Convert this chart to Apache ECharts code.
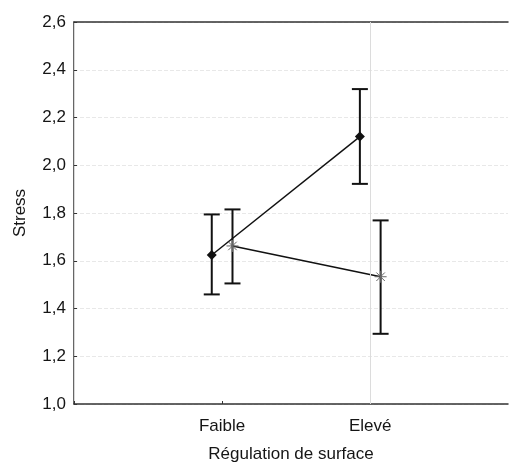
<!DOCTYPE html>
<html><head><meta charset="utf-8">
<script src="https://cdn.jsdelivr.net/npm/echarts@6/dist/echarts.min.js"></script>
<style>html,body{margin:0;padding:0;background:#fff}#c{width:509px;height:468px}</style>
</head><body><div id="c"></div>
<script>
const categories = ['Faible', 'Elevé'];
const yTicks = ['1,0','1,2','1,4','1,6','1,8','2,0','2,2','2,4','2,6'];
// series "diamond"
const diamondMean = [1.624, 2.12];
const diamondLow  = [1.459, 1.922];
const diamondHigh = [1.794, 2.319];
// series "star"
const starMean = [1.662, 1.533];
const starLow  = [1.505, 1.294];
const starHigh = [1.815, 1.769];

const OFF = 0.07;
const diamondPts = categories.map((c,i)=>[i+1-OFF, diamondMean[i]]);
const starPts = categories.map((c,i)=>[i+1+OFF, starMean[i]]);
const errData = [];
categories.forEach((c,i)=>{
  errData.push([i+1-OFF, diamondLow[i], diamondHigh[i], 0]);
  errData.push([i+1+OFF, starLow[i], starHigh[i], 1]);
});

const font = 'Liberation Sans, Arial, sans-serif';
const chart = echarts.init(document.getElementById('c'));
chart.setOption({
  animation:false,
  backgroundColor:'#fff',
  grid:{left:74, top:22, right:1, bottom:59},
  xAxis:[{
    type:'value', min:0, max:2.93, interval:1,
    name:'Régulation de surface', nameLocation:'middle', nameGap:42,
    nameTextStyle:{fontFamily:font, fontSize:17, color:'#151515'},
    axisLine:{show:true, lineStyle:{color:'#333', width:1.5}},
    axisTick:{show:true, inside:true, length:3, lineStyle:{color:'#333'}},
    axisLabel:{fontFamily:font, fontSize:17, color:'#151515', margin:14, showMaxLabel:false,
      formatter:v=>categories[Math.round(v)-1] && Math.abs(v-Math.round(v))<1e-6 ? categories[Math.round(v)-1] : ''},
    splitLine:{show:false}
  },{
    type:'value', min:0, max:2.93, position:'top',
    axisLine:{show:true, lineStyle:{color:'#333', width:1.5}},
    axisTick:{show:false}, axisLabel:{show:false}, splitLine:{show:false}
  }],
  yAxis:[{
    type:'value', min:1.0, max:2.6, interval:0.2,
    name:'Stress', nameLocation:'middle', nameGap:45,
    nameTextStyle:{fontFamily:font, fontSize:17, color:'#151515'},
    axisLine:{show:true, lineStyle:{color:'#333', width:1.5}},
    axisTick:{show:true, inside:true, length:3, lineStyle:{color:'#333'}},
    axisLabel:{fontFamily:font, fontSize:17, color:'#151515', margin:8,
      formatter:v=>yTicks[Math.round((v-1.0)/0.2)]},
    splitLine:{show:true, lineStyle:{color:'#e8e8e8', type:'dashed', width:1}}
  },{
    type:'value', min:1.0, max:2.6, position:'right',
    axisLine:{show:true, lineStyle:{color:'#d8d8d8', width:1}},
    axisTick:{show:false}, axisLabel:{show:false}, splitLine:{show:false}
  }],
  series:[
    {type:'line', data:diamondPts, symbol:'diamond', symbolSize:10,
     lineStyle:{color:'#111', width:1.5}, itemStyle:{color:'#111'},
     markLine:{silent:true, symbol:'none', label:{show:false},
       lineStyle:{color:'#dcdcdc', type:'solid', width:1}, data:[{xAxis:2}]}, z:3},
    {type:'line', data:starPts, symbol:'none',
     lineStyle:{color:'#111', width:1.5}, z:3},
    {type:'custom', data:errData, z:4,
     renderItem:(params, api)=>{
       const x = api.value(0);
       const lo = api.coord([x, api.value(1)]);
       const hi = api.coord([x, api.value(2)]);
       const half = 8;
       const st = {stroke:'#111', lineWidth:2};
       const children = [
         {type:'line', shape:{x1:lo[0], y1:lo[1], x2:hi[0], y2:hi[1]}, style:st},
         {type:'line', shape:{x1:lo[0]-half, y1:lo[1], x2:lo[0]+half, y2:lo[1]}, style:st},
         {type:'line', shape:{x1:hi[0]-half, y1:hi[1], x2:hi[0]+half, y2:hi[1]}, style:st}
       ];
       return {type:'group', children};
     }},
    {type:'custom', data:starPts, z:5,
     renderItem:(params, api)=>{
       const c = api.coord([api.value(0), api.value(1)]);
       const r = 6;
       const st = {stroke:'#666', lineWidth:1};
       const ch = [];
       for (let k=0;k<4;k++){
         const a = k*Math.PI/4;
         ch.push({type:'line', shape:{x1:c[0]-r*Math.cos(a), y1:c[1]-r*Math.sin(a), x2:c[0]+r*Math.cos(a), y2:c[1]+r*Math.sin(a)}, style:st});
       }
       return {type:'group', children:ch};
     }}
  ]
});
</script></body></html>
